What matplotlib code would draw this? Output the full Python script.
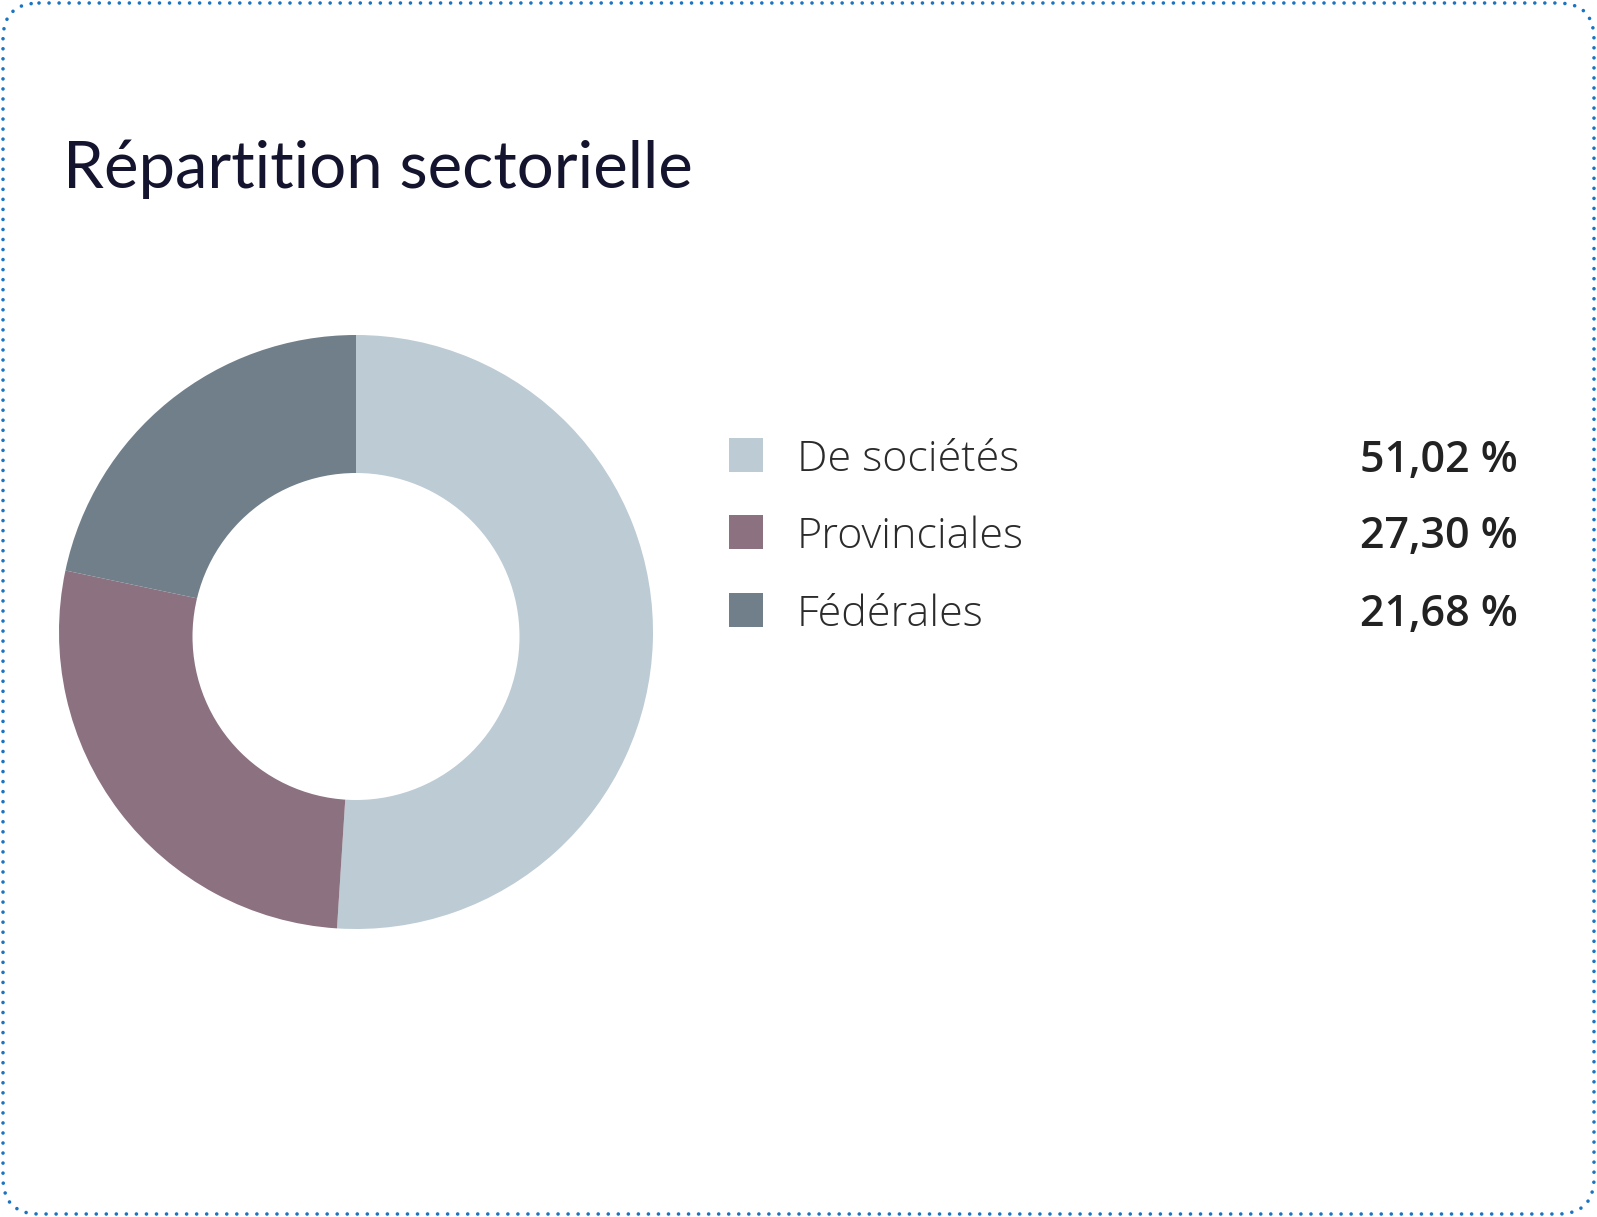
import matplotlib
matplotlib.use('Agg')
import matplotlib.pyplot as plt
from matplotlib.patches import FancyBboxPatch, Rectangle, Circle

labels = ['De sociétés', 'Provinciales', 'Fédérales']
values = [51.02, 27.30, 21.68]
colors = ['#bccbd4', '#8c7180', '#717f8a']
title = 'Répartition sectorielle'

W, H = 1597, 1217
fig = plt.figure(figsize=(W / 100, H / 100), dpi=100)

# overlay axes in pixel coordinates (y down)
ax = fig.add_axes([0, 0, 1, 1])
ax.set_xlim(0, W)
ax.set_ylim(H, 0)
ax.axis('off')

# dotted rounded frame
frame = FancyBboxPatch((3, 3), W - 6, H - 6,
                       boxstyle='round,pad=0,rounding_size=36',
                       fill=False, edgecolor='#1a74c2', linewidth=2.6,
                       linestyle=(0, (0.01, 2.77)), capstyle='round')
ax.add_patch(frame)

ax.text(63, 188, title, fontsize=47, family='Lato', color='#14142e',
        va='baseline', ha='left')

# donut (hole sits a few px below the ring centre, as in the source)
cx, cy, r = 356, 632, 297
ax_pie = fig.add_axes([(cx - r) / W, (H - cy - r) / H, 2 * r / W, 2 * r / H])
ax_pie.pie(values, colors=colors, startangle=90, counterclock=False,
           radius=1, wedgeprops=dict(linewidth=0))
ax_pie.add_patch(Circle((0, -4.5 / r), 163.5 / r, facecolor='white',
                        edgecolor='none', zorder=5))
ax_pie.set_xlim(-1, 1)
ax_pie.set_ylim(-1, 1)
ax_pie.axis('off')

# legend
row_y = [455, 532, 610]
for y, lab, val, col in zip(row_y, labels, values, colors):
    ax.add_patch(Rectangle((729, y - 17), 34, 34, facecolor=col, edgecolor='none'))
    ax.text(797, y, lab, fontsize=31, family='Open Sans', weight='light',
            color='#2b2b2b', va='center_baseline', ha='left')
    txt = f'{val:.2f}'.replace('.', ',') + ' %'
    ax.text(1518, y, txt, fontsize=31, family='Open Sans', weight='semibold',
            color='#222222', va='center_baseline', ha='right')

fig.savefig('out.png', dpi=100)
